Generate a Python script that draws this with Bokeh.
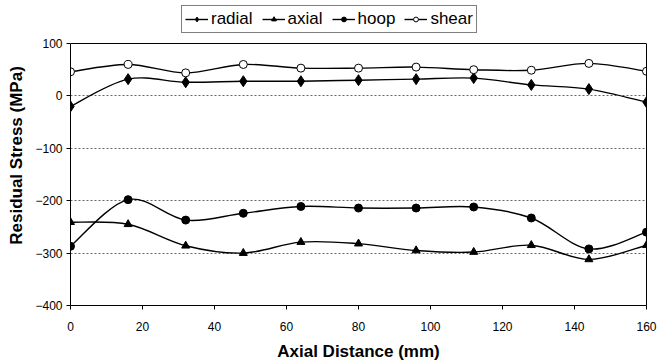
from bokeh.plotting import figure
from bokeh.models import (Legend, LegendItem, ColumnDataSource, FixedTicker, Range1d,
                          LinearAxis, Span)
from bokeh.embed import file_html
from bokeh.resources import INLINE

# ---- data ----
distance = [0, 16, 32, 48, 64, 80, 96, 112, 128, 144, 160]
radial = [-20, 32, 26, 28, 28, 30, 32, 34, 21, 13, -12]
axial = [-241, -245, -286, -300, -279, -282, -295, -298, -285, -312, -285]
hoop = [-287, -198, -237, -224, -211, -214, -214, -212, -233, -292, -260]
shear = [46, 60, 44, 60, 53, 53, 55, 50, 49, 62, 47]
x_ticks = [0, 20, 40, 60, 80, 100, 120, 140, 160]
y_ticks = [-400, -300, -200, -100, 0, 100]

FONT = "Liberation Sans"
Y_MIN, Y_MAX = -400, 100
# extra headroom in the frame so the legend (drawn inside the frame) is not clipped
TOP_PAD_PX = 38
PLOT_PX = 262
y_end = Y_MAX + TOP_PAD_PX * (Y_MAX - Y_MIN) / PLOT_PX

p = figure(width=659, height=364, output_backend="svg", toolbar_location=None,
           x_range=Range1d(0, 160), y_range=Range1d(Y_MIN, y_end),
           min_border_left=70, min_border_right=13, min_border_top=5, min_border_bottom=59)
p.background_fill_color = "white"
p.border_fill_color = "white"
p.outline_line_color = None

p.xgrid.visible = False
p.ygrid.ticker = FixedTicker(ticks=y_ticks[:-1])
p.ygrid.grid_line_color = "#666666"
p.ygrid.grid_line_dash = "2 2"
p.ygrid.grid_line_width = 1

right_axis = LinearAxis(bounds=(Y_MIN, Y_MAX), ticker=FixedTicker(ticks=[]),
                        major_label_text_font_size="0px", axis_line_color="black",
                        major_tick_line_color=None, minor_tick_line_color=None)
p.add_layout(right_axis, "right")
p.add_layout(Span(location=Y_MAX, dimension="width", line_color="black", line_width=1))

for ax in (p.xaxis[0], p.yaxis[0]):
    ax.major_label_text_font = FONT
    ax.major_label_text_font_size = "12px"
    ax.major_label_text_color = "black"
    ax.axis_label_text_font = FONT
    ax.axis_label_text_font_size = "17px"
    ax.axis_label_text_font_style = "bold"
    ax.axis_label_text_color = "black"
    ax.axis_line_color = "black"
    ax.major_tick_line_color = "black"
    ax.major_tick_out = 4
    ax.major_tick_in = 0
    ax.minor_tick_line_color = None

p.xaxis[0].ticker = FixedTicker(ticks=x_ticks)
p.yaxis[0].ticker = FixedTicker(ticks=y_ticks)
p.yaxis[0].bounds = (Y_MIN, Y_MAX)
p.xaxis[0].axis_label = "Axial Distance (mm)"
p.yaxis[0].axis_label = "Residual Stress (MPa)"
p.xaxis[0].major_label_standoff = 12
p.xaxis[0].axis_label_standoff = 8
p.yaxis[0].major_label_standoff = 4
p.yaxis[0].axis_label_standoff = 6


def smooth_segments(xs, ys, t=1.0 / 6.0):
    n = len(xs)
    seg = dict(x0=[], y0=[], x1=[], y1=[], cx0=[], cy0=[], cx1=[], cy1=[])
    for i in range(n - 1):
        i0 = max(i - 1, 0)
        i3 = min(i + 2, n - 1)
        seg["x0"].append(xs[i]); seg["y0"].append(ys[i])
        seg["x1"].append(xs[i + 1]); seg["y1"].append(ys[i + 1])
        seg["cx0"].append(xs[i] + (xs[i + 1] - xs[i0]) * t)
        seg["cy0"].append(ys[i] + (ys[i + 1] - ys[i0]) * t)
        seg["cx1"].append(xs[i + 1] - (xs[i3] - xs[i]) * t)
        seg["cy1"].append(ys[i + 1] - (ys[i3] - ys[i]) * t)
    return ColumnDataSource(seg)


series = [
    ("radial", radial, "diamond", 11, "black"),
    ("axial", axial, "triangle", 8, "black"),
    ("hoop", hoop, "circle", 8, "black"),
    ("shear", shear, "circle", 8, "white"),
]

items = []
for name, vals, marker, size, fill in series:
    b = p.bezier(x0="x0", y0="y0", x1="x1", y1="y1", cx0="cx0", cy0="cy0",
                 cx1="cx1", cy1="cy1", source=smooth_segments(distance, vals),
                 line_color="black", line_width=1.4)
    s = p.scatter(distance, vals, marker=marker, size=size, fill_color=fill,
                  line_color="black", line_width=1)
    items.append(LegendItem(label=name, renderers=[b, s]))

legend = Legend(items=items, orientation="horizontal", location=(111, 272))
legend.label_text_font = FONT
legend.label_text_font_size = "17px"
legend.label_text_color = "black"
legend.glyph_width = 23
legend.glyph_height = 12
legend.label_standoff = 3
legend.spacing = 9
legend.padding = 3
legend.margin = 0
legend.border_line_color = "black"
legend.border_line_width = 1
legend.background_fill_color = "white"
legend.background_fill_alpha = 1
p.add_layout(legend, "center")

open("out.html", "w").write(file_html(p, INLINE))
